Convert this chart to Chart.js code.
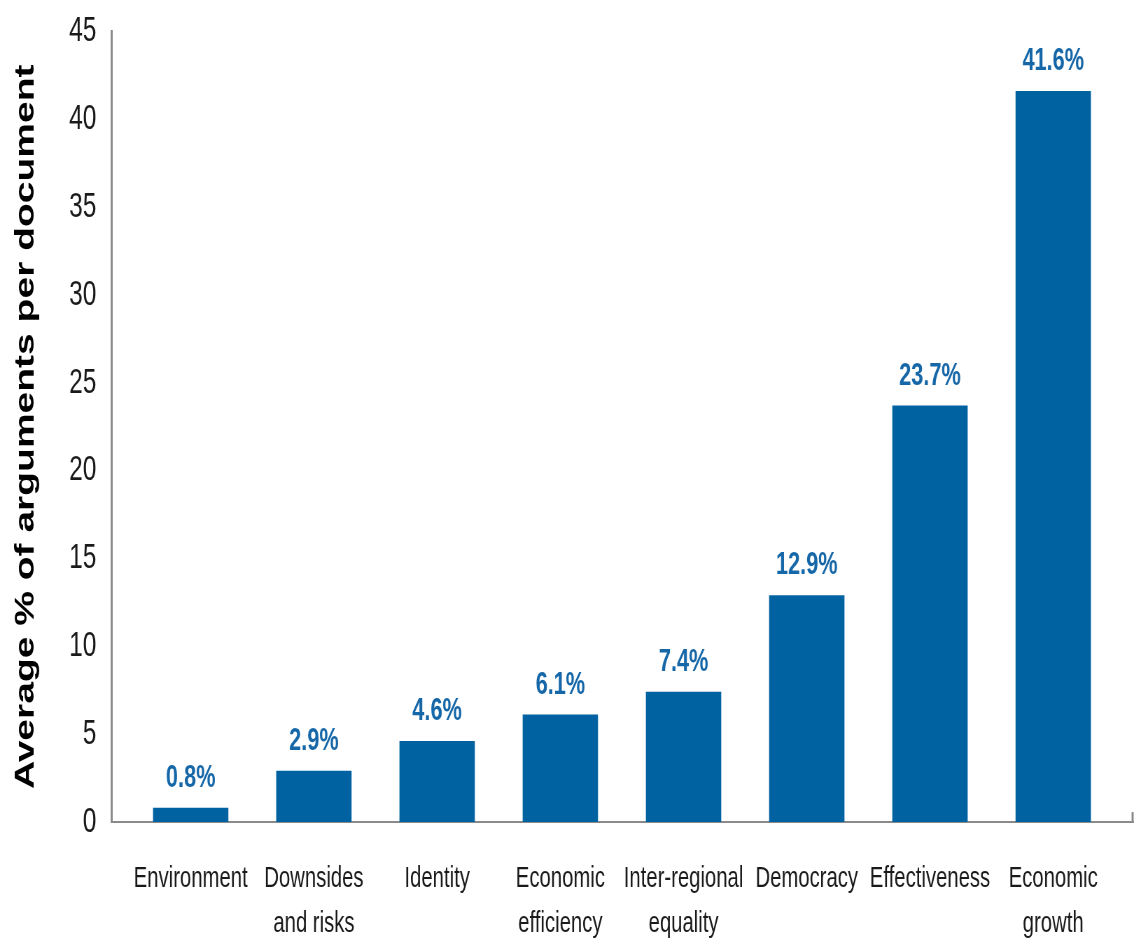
<!DOCTYPE html>
<html>
<head>
<meta charset="utf-8">
<script src="https://cdn.jsdelivr.net/npm/chart.js@4.4.1/dist/chart.umd.min.js"></script>
<style>
  html, body { margin: 0; background: #fff; overflow: hidden; }
  /* the reference is drawn squeezed sideways, so the chart is laid out wider and compressed */
  #wrap { width: 1629px; height: 972px; position: relative; transform: scaleX(0.7); transform-origin: 0 0; }
</style>
</head>
<body>
<div id="wrap"><canvas id="argChart"></canvas></div>
<script>
// data
const categories = [
  ['Environment'], ['Downsides', 'and risks'], ['Identity'], ['Economic', 'efficiency'],
  ['Inter-regional', 'equality'], ['Democracy'], ['Effectiveness'], ['Economic', 'growth']
];
const shares = [0.8, 2.9, 4.6, 6.1, 7.4, 12.9, 23.7, 41.6];
const valueLabels = ['0.8%', '2.9%', '4.6%', '6.1%', '7.4%', '12.9%', '23.7%', '41.6%'];
const yTicks = [0, 5, 10, 15, 20, 25, 30, 35, 40, 45];

const sans = '"Liberation Sans", Arial, Helvetica, sans-serif';
const barBlue = '#0062a1';
const axisGrey = '#8a8a8a';

// labels above each bar
const valueLabelPlugin = {
  id: 'valueLabels',
  afterDatasetsDraw(chart) {
    const ctx = chart.ctx;
    const meta = chart.getDatasetMeta(0);
    ctx.save();
    ctx.fillStyle = '#1667a8';
    ctx.font = 'bold 31px ' + sans;
    ctx.textAlign = 'center';
    ctx.textBaseline = 'alphabetic';
    meta.data.forEach((bar, i) => {
      ctx.fillText(valueLabels[i], bar.x, bar.y - 21);
    });
    ctx.restore();
  }
};

// little upward tick at the right end of the x axis
const endTickPlugin = {
  id: 'endTick',
  afterDraw(chart) {
    const { ctx, chartArea } = chart;
    ctx.save();
    ctx.strokeStyle = axisGrey;
    ctx.lineWidth = 3;
    ctx.beginPath();
    ctx.moveTo(chartArea.right - 1, chartArea.bottom);
    ctx.lineTo(chartArea.right - 1, chartArea.bottom - 10);
    ctx.stroke();
    ctx.restore();
  }
};

const ctx = document.getElementById('argChart').getContext('2d');
new Chart(ctx, {
  type: 'bar',
  data: {
    datasets: [{
      data: shares.map((v, i) => ({ x: i, y: v })),
      backgroundColor: barBlue,
      barThickness: 107,
      borderWidth: 0
    }]
  },
  options: {
    responsive: true,
    maintainAspectRatio: false,
    animation: false,
    layout: { padding: { top: 12, right: 10, bottom: 0, left: 0 } },
    plugins: {
      legend: { display: false },
      tooltip: { enabled: false }
    },
    scales: {
      x: {
        type: 'linear',
        min: -0.64,
        max: 7.65,
        offset: false,
        grid: { display: false },
        border: { display: true, color: axisGrey, width: 2 },
        ticks: {
          stepSize: 1,
          includeBounds: false,
          autoSkip: false,
          maxRotation: 0,
          padding: 26,
          color: '#1a1a1a',
          font: { family: sans, size: 29, lineHeight: 1.55 },
          callback: (v) => (Number.isInteger(v) && v >= 0 && v < categories.length) ? categories[v] : ''
        }
      },
      y: {
        min: 0,
        max: 45,
        grid: { display: false },
        border: { display: true, color: axisGrey, width: 3 },
        afterBuildTicks: (axis) => { axis.ticks = yTicks.map(v => ({ value: v })); },
        ticks: {
          padding: 14,
          color: '#1a1a1a',
          font: { family: sans, size: 35, lineHeight: 1 }
        },
        title: {
          display: true,
          text: 'Average % of arguments per document',
          color: '#000',
          padding: { top: 14, bottom: 24 },
          font: { family: sans, size: 39, weight: 'bold' }
        }
      }
    }
  },
  plugins: [valueLabelPlugin, endTickPlugin]
});
</script>
</body>
</html>
